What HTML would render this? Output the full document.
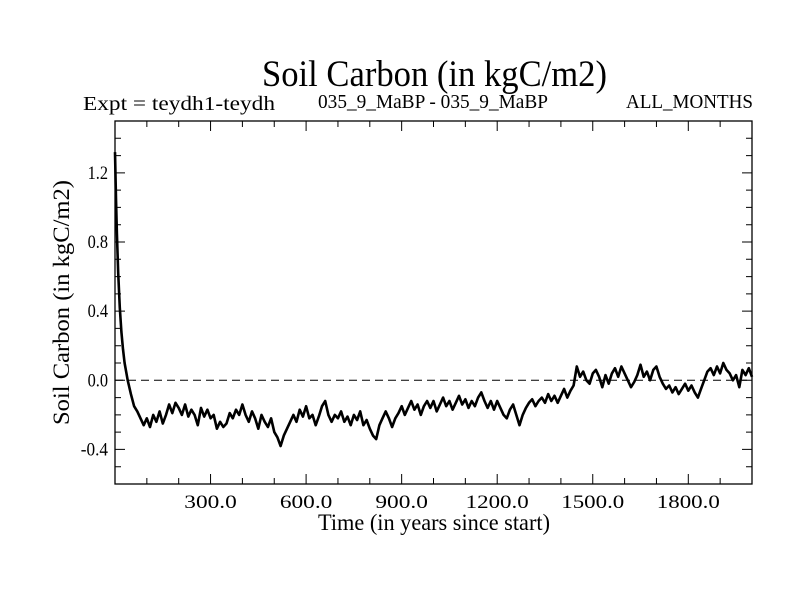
<!DOCTYPE html>
<html><head><meta charset="utf-8"><style>
html,body{margin:0;padding:0;background:#fff;}
svg{display:block;font-family:"Liberation Serif",serif;}
</style></head><body>
<svg id="chart" width="800" height="600">
<text x="262" y="86" font-size="37" textLength="345" lengthAdjust="spacingAndGlyphs">Soil Carbon (in kgC/m2)</text>
<text x="83" y="110" font-size="20" textLength="192" lengthAdjust="spacingAndGlyphs">Expt = teydh1-teydh</text>
<text x="318" y="108" font-size="20" textLength="230" lengthAdjust="spacingAndGlyphs">035_9_MaBP - 035_9_MaBP</text>
<text x="626" y="108" font-size="20" textLength="127" lengthAdjust="spacingAndGlyphs">ALL_MONTHS</text>
<text x="318" y="530" font-size="23" textLength="232" lengthAdjust="spacingAndGlyphs">Time (in years since start)</text>
<text transform="translate(69,425) rotate(-90)" font-size="23" textLength="245" lengthAdjust="spacingAndGlyphs">Soil Carbon (in kgC/m2)</text>
<g id="axes"></g>
<g id="series"></g>
</svg>
<script>
const xTicks=[300,600,900,1200,1500,1800];
const xTickLabels=["300.0","600.0","900.0","1200.0","1500.0","1800.0"];
const yTicks=[1.2,0.8,0.4,0.0,-0.4];
const yTickLabels=["1.2","0.8","0.4","0.0","-0.4"];
const years=[0,3,6,10,15,20,25,30,40,50,60,70,80,90,100,110,120,130,140,150,160,170,180,190,200,210,220,230,240,250,260,270,280,290,300,310,320,330,340,350,360,370,380,390,400,410,420,430,440,450,460,470,480,490,500,510,520,530,540,550,560,570,580,590,600,610,620,630,640,650,660,670,680,690,700,710,720,730,740,750,760,770,780,790,800,810,820,830,840,850,860,870,880,890,900,910,920,930,940,950,960,970,980,990,1000,1010,1020,1030,1040,1050,1060,1070,1080,1090,1100,1110,1120,1130,1140,1150,1160,1170,1180,1190,1200,1210,1220,1230,1240,1250,1260,1270,1280,1290,1300,1310,1320,1330,1340,1350,1360,1370,1380,1390,1400,1410,1420,1430,1440,1450,1460,1470,1480,1490,1500,1510,1520,1530,1540,1550,1560,1570,1580,1590,1600,1610,1620,1630,1640,1650,1660,1670,1680,1690,1700,1710,1720,1730,1740,1750,1760,1770,1780,1790,1800,1810,1820,1830,1840,1850,1860,1870,1880,1890,1900,1910,1920,1930,1940,1950,1960,1970,1980,1990,2000];
const carbon=[1.32,1.05,0.85,0.62,0.42,0.28,0.18,0.1,0.0,-0.08,-0.15,-0.18,-0.22,-0.26,-0.22,-0.27,-0.2,-0.24,-0.18,-0.25,-0.2,-0.14,-0.19,-0.13,-0.16,-0.2,-0.14,-0.21,-0.17,-0.2,-0.26,-0.16,-0.21,-0.17,-0.22,-0.2,-0.28,-0.24,-0.27,-0.25,-0.19,-0.22,-0.17,-0.2,-0.14,-0.2,-0.24,-0.18,-0.22,-0.28,-0.2,-0.24,-0.27,-0.22,-0.3,-0.33,-0.38,-0.32,-0.28,-0.24,-0.2,-0.24,-0.17,-0.21,-0.15,-0.22,-0.2,-0.26,-0.21,-0.15,-0.12,-0.2,-0.24,-0.2,-0.22,-0.18,-0.24,-0.21,-0.26,-0.2,-0.23,-0.18,-0.26,-0.23,-0.28,-0.32,-0.34,-0.26,-0.22,-0.18,-0.22,-0.27,-0.22,-0.19,-0.15,-0.2,-0.16,-0.12,-0.17,-0.14,-0.2,-0.15,-0.12,-0.16,-0.12,-0.18,-0.14,-0.1,-0.15,-0.12,-0.17,-0.13,-0.09,-0.14,-0.11,-0.16,-0.12,-0.15,-0.1,-0.07,-0.12,-0.16,-0.12,-0.17,-0.12,-0.16,-0.2,-0.22,-0.17,-0.14,-0.2,-0.26,-0.2,-0.16,-0.13,-0.11,-0.15,-0.12,-0.1,-0.13,-0.08,-0.12,-0.09,-0.13,-0.09,-0.05,-0.1,-0.06,-0.03,0.08,0.02,0.05,0.0,-0.02,0.04,0.06,0.02,-0.04,0.03,-0.02,0.04,0.07,0.02,0.08,0.04,0.0,-0.04,-0.01,0.03,0.09,0.02,0.05,0.0,0.06,0.08,0.02,-0.02,-0.05,-0.03,-0.07,-0.04,-0.08,-0.05,-0.02,-0.06,-0.03,-0.07,-0.1,-0.05,0.0,0.05,0.07,0.03,0.08,0.04,0.1,0.06,0.04,-0.0,0.03,-0.04,0.06,0.03,0.07,0.02,-0.01,-0.04];
const X0=115,X1=752,Y0=484,Y1=121,xmin=0,xmax=2000,ymin=-0.6,ymax=1.5;
const sx=v=>X0+(v-xmin)/(xmax-xmin)*(X1-X0);
const sy=v=>Y0-(v-ymin)/(ymax-ymin)*(Y0-Y1);
const NS="http://www.w3.org/2000/svg";
const axes=document.getElementById("axes"),series=document.getElementById("series");
function mk(tag,attrs,parent){const e=document.createElementNS(NS,tag);for(const k in attrs)e.setAttribute(k,attrs[k]);parent.appendChild(e);return e;}
const frame=mk("rect",{x:X0,y:Y1,width:X1-X0,height:Y0-Y1,fill:"none",stroke:"#000","stroke-width":1.3},axes);


for(let v=100;v<xmax;v+=100){
  const major=xTicks.includes(v);const L=major?10:6;const x=sx(v);
  const t=mk("path",{d:`M${x},${Y0}v${-L}M${x},${Y1}v${L}`,stroke:"#000","stroke-width":1},axes);
  
  
}
for(let i=-5;i<15;i++){
  const v=i/10;const major=yTicks.some(t=>Math.abs(t-v)<1e-6);const L=major?10:6;const y=sy(v);
  const t=mk("path",{d:`M${X0},${y}h${L}M${X1},${y}h${-L}`,stroke:"#000","stroke-width":1},axes);
  
  
}
xTicks.forEach((v,i)=>{const w=xTickLabels[i].length*10.5;const t=mk("text",{x:sx(v)-w/2,y:Y0+24,"font-size":19,textLength:w,lengthAdjust:"spacingAndGlyphs"},axes);t.textContent=xTickLabels[i];
  
  });
yTicks.forEach((v,i)=>{const w=yTickLabels[i].length*6.8;const t=mk("text",{x:X0-7-w,y:sy(v)+6,"font-size":19,textLength:w,lengthAdjust:"spacingAndGlyphs"},axes);t.textContent=yTickLabels[i];
  
  });
const zl=mk("line",{x1:X0,x2:X1,y1:sy(0),y2:sy(0),stroke:"#000","stroke-width":1,"stroke-dasharray":"8,5"},series);


const line=mk("path",{d:years.map((y,i)=>(i?"L":"M")+sx(y).toFixed(1)+","+sy(carbon[i]).toFixed(1)).join(""),fill:"none",stroke:"#000","stroke-width":2.6,"stroke-linejoin":"round"},series);


</script>
</body></html>
